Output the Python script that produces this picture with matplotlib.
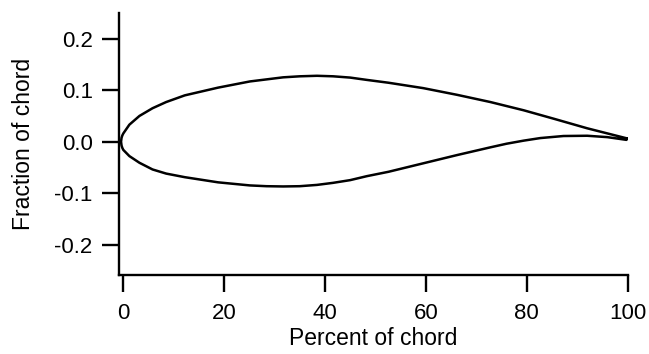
import numpy as np
import matplotlib
matplotlib.use('Agg')
import matplotlib.pyplot as plt

# airfoil outline (percent of chord, fraction of chord)
upper_x = [-0.45, -0.35, -0.2, 0.0, 1.2, 3.2, 5.8, 8.5, 12.2, 18.8, 25.1,
           28.4, 31.7, 35.0, 38.4, 41.6, 45.0, 48.3, 52.6, 59.5, 66.2, 72.8,
           79.4, 85.4, 92.0, 99.8]
upper_y = [0.0, 0.0075, 0.012, 0.016, 0.033, 0.050, 0.065, 0.077, 0.090,
           0.105, 0.117, 0.121, 0.125, 0.127, 0.128, 0.127, 0.1245, 0.120,
           0.1145, 0.104, 0.091, 0.077, 0.061, 0.0445, 0.026, 0.0066]
lower_x = [-0.45, -0.35, -0.2, 0.0, 1.2, 3.2, 5.8, 8.5, 12.2, 18.8, 25.1,
           28.4, 31.7, 35.0, 38.4, 41.6, 45.0, 48.3, 52.6, 59.5, 66.2, 72.8,
           76.0, 79.4, 82.7, 87.3, 92.0, 96.0, 99.8]
lower_y = [0.0, -0.0075, -0.012, -0.016, -0.028, -0.041, -0.054, -0.062,
           -0.069, -0.079, -0.085, -0.0865, -0.087, -0.0865, -0.084, -0.080,
           -0.0747, -0.067, -0.0585, -0.042, -0.026, -0.011, -0.004, 0.002,
           0.007, 0.0110, 0.0115, 0.0088, 0.0035]

xticks = [0, 20, 40, 60, 80, 100]
yticks = [-0.2, -0.1, 0.0, 0.1, 0.2]
ytick_labels = ['-0.2', '-0.1', '0.0', '0.1', '0.2']

plt.rcParams['font.family'] = ['Liberation Sans', 'DejaVu Sans']
plt.rcParams['axes.unicode_minus'] = False

fig = plt.figure(figsize=(6.49, 3.54), dpi=100)
ax = fig.add_axes([0.1834, 0.2232, 0.7835, 0.7401])

# trace upper surface from trailing edge to nose, then lower surface back
xs = upper_x[::-1] + lower_x[1:] + [upper_x[-1]]
ys = upper_y[::-1] + lower_y[1:] + [upper_y[-1]]
ax.plot(xs, ys, color='black', lw=1.8, solid_joinstyle='round')

ax.set_xlim(-0.85, 100)
ax.set_ylim(-0.259, 0.25)
ax.set_xticks(xticks)
ax.set_yticks(yticks)
ax.set_yticklabels(ytick_labels)

for s in ['top', 'right']:
    ax.spines[s].set_visible(False)
for s in ['left', 'bottom']:
    ax.spines[s].set_linewidth(1.7)
ax.tick_params(direction='out', length=12, width=1.7, labelsize=16)
ax.tick_params(axis='x', pad=8)
ax.tick_params(axis='y', pad=7)

ax.set_xlabel('Percent of chord', fontsize=16.5, labelpad=2)
ax.set_ylabel('Fraction of chord', fontsize=16.5, labelpad=14)

fig.savefig('out.png', dpi=100)
plt.close()
